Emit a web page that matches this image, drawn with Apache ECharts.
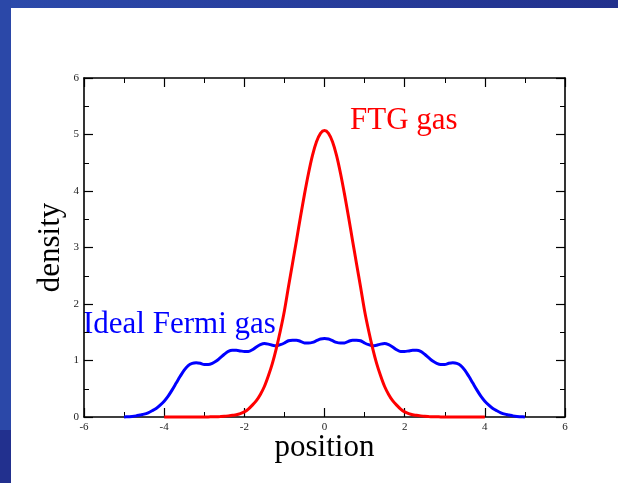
<!DOCTYPE html>
<html><head><meta charset="utf-8">
<script src="https://cdn.jsdelivr.net/npm/echarts@6/dist/echarts.min.js"></script>
<style>html,body{margin:0;padding:0;background:#fff}#c{width:618px;height:483px}</style>
</head><body><div id="c"></div>
<script>
const positionIdeal = [-5.0,-4.9,-4.8,-4.7,-4.6,-4.5,-4.4,-4.3,-4.2,-4.1,-4.0,-3.9,-3.8,-3.7,-3.6,-3.5,-3.4,-3.3,-3.2,-3.1,-3.0,-2.9,-2.8,-2.7,-2.6,-2.5,-2.4,-2.3,-2.2,-2.1,-2.0,-1.9,-1.8,-1.7,-1.6,-1.5,-1.4,-1.3,-1.2,-1.1,-1.0,-0.9,-0.8,-0.7,-0.6,-0.5,-0.4,-0.3,-0.2,-0.1,0.0,0.1,0.2,0.3,0.4,0.5,0.6,0.7,0.8,0.9,1.0,1.1,1.2,1.3,1.4,1.5,1.6,1.7,1.8,1.9,2.0,2.1,2.2,2.3,2.4,2.5,2.6,2.7,2.8,2.9,3.0,3.1,3.2,3.3,3.4,3.5,3.6,3.7,3.8,3.9,4.0,4.1,4.2,4.3,4.4,4.5,4.6,4.7,4.8,4.9,5.0];
const densityIdeal = [0.00,0.005,0.01,0.02,0.035,0.05,0.075,0.11,0.15,0.21,0.28,0.37,0.48,0.60,0.72,0.83,0.91,0.95,0.96,0.95,0.93,0.93,0.95,0.99,1.05,1.11,1.16,1.18,1.18,1.17,1.16,1.16,1.19,1.24,1.28,1.30,1.29,1.27,1.26,1.28,1.31,1.35,1.36,1.36,1.34,1.31,1.31,1.32,1.35,1.38,1.39,1.38,1.35,1.32,1.31,1.31,1.34,1.36,1.36,1.35,1.31,1.28,1.26,1.27,1.29,1.30,1.28,1.24,1.19,1.16,1.16,1.17,1.18,1.18,1.16,1.11,1.05,0.99,0.95,0.93,0.93,0.95,0.96,0.95,0.91,0.83,0.72,0.60,0.48,0.37,0.28,0.21,0.15,0.11,0.075,0.05,0.035,0.02,0.01,0.005,0.00];
const positionFTG = [-4.0,-3.9,-3.8,-3.7,-3.6,-3.5,-3.4,-3.3,-3.2,-3.1,-3.0,-2.9,-2.8,-2.7,-2.6,-2.5,-2.4,-2.3,-2.2,-2.1,-2.0,-1.9,-1.8,-1.7,-1.6,-1.5,-1.4,-1.3,-1.2,-1.1,-1.0,-0.9,-0.8,-0.7,-0.6,-0.5,-0.4,-0.3,-0.2,-0.1,0.0,0.1,0.2,0.3,0.4,0.5,0.6,0.7,0.8,0.9,1.0,1.1,1.2,1.3,1.4,1.5,1.6,1.7,1.8,1.9,2.0,2.1,2.2,2.3,2.4,2.5,2.6,2.7,2.8,2.9,3.0,3.1,3.2,3.3,3.4,3.5,3.6,3.7,3.8,3.9,4.0];
const densityFTG = [0,0,0,0,0,0,0,0,0,0.001,0.001,0.002,0.003,0.005,0.008,0.012,0.02,0.03,0.04,0.06,0.09,0.14,0.21,0.29,0.40,0.54,0.73,0.95,1.22,1.53,1.88,2.30,2.71,3.12,3.54,3.94,4.31,4.63,4.87,5.02,5.07,5.02,4.87,4.63,4.31,3.94,3.54,3.12,2.71,2.30,1.88,1.53,1.22,0.95,0.73,0.54,0.40,0.29,0.21,0.14,0.09,0.06,0.04,0.03,0.02,0.012,0.008,0.005,0.003,0.002,0.001,0.001,0,0,0,0,0,0,0,0,0];
const xTicks = [-6,-4,-2,0,2,4,6];
const yTicks = [0,1,2,3,4,5,6];

const serif = '"Liberation Serif", "DejaVu Serif", serif';
const chart = echarts.init(document.getElementById('c'));
const zip = (a,b) => a.map((v,i)=>[v,b[i]]);
const axisCommon = {
  axisLine:{show:true,onZero:false,lineStyle:{color:'#000',width:1.6}},
  axisTick:{show:true,inside:true,length:9,lineStyle:{color:'#000',width:1.2}},
  minorTick:{show:true,splitNumber:2,length:5,lineStyle:{color:'#000',width:1}},
  splitLine:{show:false}
};
chart.setOption({
  animation:false,
  backgroundColor:'#fff',
  graphic:[
    {type:'rect',z:-10,shape:{x:0,y:0,width:618,height:8},style:{fill:new echarts.graphic.LinearGradient(0,0,1,0,[{offset:0,color:'#2c4aab'},{offset:1,color:'#22318d'}])}},
    {type:'rect',z:-10,shape:{x:0,y:0,width:11,height:430},style:{fill:'#2b48a8'}},
    {type:'rect',z:-10,shape:{x:0,y:430,width:11,height:53},style:{fill:'#22308e'}},
    {type:'text',left:83,top:309,style:{text:'Ideal Fermi gas',fill:'#0000ff',font:'31px '+serif}},
    {type:'text',left:350,top:105,style:{text:'FTG gas',fill:'#ff0000',font:'31px '+serif}}
  ],
  grid:{left:84,right:53,top:78,bottom:66},
  xAxis:[
    Object.assign({type:'value',min:-6,max:6,interval:2,position:'bottom',
      name:'position',nameLocation:'middle',nameGap:15,nameMoveOverlap:false,
      nameTextStyle:{fontFamily:serif,fontSize:31,color:'#000'},
      axisLabel:{show:true,margin:5,fontFamily:serif,fontSize:11,color:'#222',
        formatter:v=>xTicks.includes(v)?String(v):''}},axisCommon),
    Object.assign({type:'value',min:-6,max:6,interval:2,position:'top',axisLabel:{show:false}},axisCommon)
  ],
  yAxis:[
    Object.assign({type:'value',min:0,max:6,interval:1,position:'left',
      name:'density',nameLocation:'middle',nameGap:18,nameMoveOverlap:false,
      nameTextStyle:{fontFamily:serif,fontSize:31,color:'#000'},
      axisLabel:{show:true,margin:5,fontFamily:serif,fontSize:11,color:'#222',
        formatter:v=>yTicks.includes(v)?String(v):''}},axisCommon),
    Object.assign({type:'value',min:0,max:6,interval:1,position:'right',axisLabel:{show:false}},axisCommon)
  ],
  series:[
    {type:'line',name:'Ideal Fermi gas',data:zip(positionIdeal,densityIdeal),showSymbol:false,smooth:0.3,clip:false,
      lineStyle:{color:'#0000ff',width:3},z:3},
    {type:'line',name:'FTG gas',data:zip(positionFTG,densityFTG),showSymbol:false,smooth:0.3,clip:false,
      lineStyle:{color:'#ff0000',width:3},z:4}
  ]
});
</script></body></html>
